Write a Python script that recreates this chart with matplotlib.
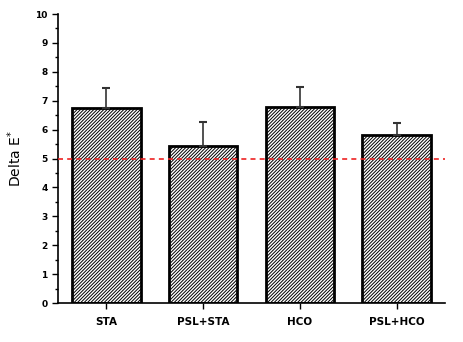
import matplotlib
matplotlib.use("Agg")
import matplotlib.pyplot as plt
import numpy as np

# data
groups = ["STA", "PSL+STA", "HCO", "PSL+HCO"]
delta_e = [6.75, 5.43, 6.78, 5.81]
err_up = [0.68, 0.84, 0.70, 0.43]
threshold = 5.0

plt.rcParams['hatch.linewidth'] = 0.7

fig = plt.figure(figsize=(4.64, 3.42), dpi=100)
ax = fig.add_axes([0.125, 0.114, 0.834, 0.845])

x = np.arange(len(groups))
ax.bar(x, delta_e, width=0.71, color="white", edgecolor="black",
       linewidth=2, hatch="//////////", zorder=2)
ax.errorbar(x, delta_e, yerr=[np.zeros(len(x)), err_up], fmt="none",
            ecolor="#333333", elinewidth=1.2, capsize=3, capthick=1.5, zorder=3)
ax.axhline(threshold, color="#ee2222", linestyle=(0, (3, 2.5)), linewidth=1.2, zorder=4)

ax.set_xlim(-0.5, 3.5)
ax.set_ylim(0, 10)
ax.set_yticks(range(0, 11))
ax.set_yticks(np.arange(0.5, 10, 1), minor=True)
ax.set_xticks(x)
ax.set_xticklabels(groups, fontsize=7.5, fontweight="bold")
for lab in ax.get_yticklabels():
    lab.set_fontsize(6.5)
    lab.set_fontweight("bold")
ax.tick_params(axis="y", which="major", length=4, width=1, direction="out")
ax.tick_params(axis="y", which="minor", length=2, width=1, direction="out")
ax.tick_params(axis="x", length=4, width=1, direction="out", pad=6)
ax.spines["top"].set_visible(False)
ax.spines["right"].set_visible(False)
ax.spines["left"].set_linewidth(1.2)
ax.spines["bottom"].set_linewidth(1.2)
ax.set_ylabel("Delta E$^{*}$", fontsize=10, labelpad=8)

fig.savefig("out.png", dpi=100)
